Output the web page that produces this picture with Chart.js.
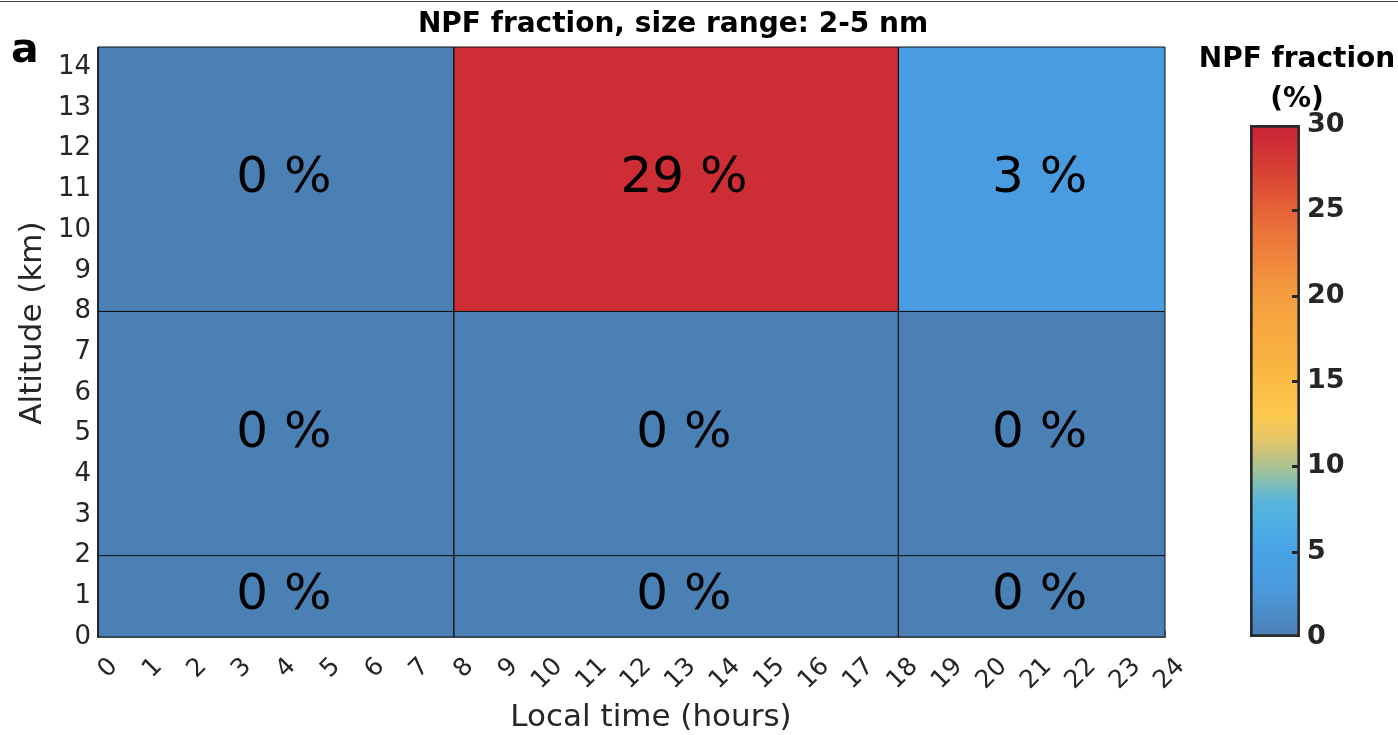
<!DOCTYPE html>
<html>
<head>
<meta charset="utf-8">
<title>NPF fraction, size range: 2-5 nm</title>
<script src="https://cdn.jsdelivr.net/npm/chart.js@4.4.1/dist/chart.umd.min.js"></script>
<style>
  html, body { margin: 0; padding: 0; background: #fff; }
  #wrap { position: relative; width: 1398px; height: 735px; overflow: hidden; }
  #topline { position: absolute; left: 0; top: 1px; width: 1398px; height: 0; border-top: 1px solid #444; }
  #main { position: absolute; left: 0; top: 0; }
  #cbar { position: absolute; left: 1190px; top: 0; }
</style>
</head>
<body>
<div id="wrap">
  <div id="topline"></div>
  <canvas id="main" width="1346" height="735"></canvas>
  <canvas id="cbar" width="208" height="735"></canvas>
</div>
<script>
// ── Data ──────────────────────────────────────────────────────────────
var timeEdges = [0, 8, 18, 24];          // local time bins (hours)
var altEdges  = [0, 2, 8, 14.5];         // altitude bins (km)
// NPF fraction (%), rows = altitude bins (bottom -> top), cols = time bins
var npfLow  = [0, 0, 0];
var npfMid  = [0, 0, 0];
var npfHigh = [0, 29, 3];
var npfRows = [npfLow, npfMid, npfHigh];

var xTicks  = [0,1,2,3,4,5,6,7,8,9,10,11,12,13,14,15,16,17,18,19,20,21,22,23,24];
var yTicks  = [0,1,2,3,4,5,6,7,8,9,10,11,12,13,14];
var cbTicks = [0, 5, 10, 15, 20, 25, 30];

var chartTitle = 'NPF fraction, size range: 2-5 nm';
var xTitle     = 'Local time (hours)';
var yTitle     = 'Altitude (km)';
var cbTitle    = ['NPF fraction', '(%)'];

// ── Colormap ──────────────────────────────────────────────────────────
var cmap = [
    [0,   [75, 128, 180]],
    [3,   [74, 156, 224]],
    [5,   [72, 162, 228]],
    [6.5, [75, 175, 230]],
    [8,   [90, 181, 218]],
    [9,   [128, 190, 182]],
    [10,  [172, 195, 145]],
    [11.5,[228, 198, 106]],
    [13,  [252, 200, 76]],
    [15,  [250, 187, 68]],
    [17,  [248, 174, 64]],
    [20,  [245, 158, 64]],
    [22,  [240, 135, 60]],
    [25,  [230, 100, 56]],
    [27,  [216, 68, 52]],
    [30,  [200, 34, 54]]
];

function colorFor(v) {
    if (v <= cmap[0][0]) return 'rgb(' + cmap[0][1].join(',') + ')';
    for (var i = 1; i < cmap.length; i++) {
        if (v <= cmap[i][0]) {
            var a = cmap[i - 1], b = cmap[i];
            var t = (v - a[0]) / (b[0] - a[0]);
            var c = a[1].map(function(x, k) { return Math.round(x + (b[1][k] - x) * t); });
            return 'rgb(' + c.join(',') + ')';
        }
    }
    return 'rgb(' + cmap[cmap.length - 1][1].join(',') + ')';
}

var FONT = '"DejaVu Sans", "Noto Sans", sans-serif';
var INK  = '#262626';

// ── Cells as closed line shapes ───────────────────────────────────────
var datasets = [];
var cells = [];
npfRows.forEach(function(row, r) {
    row.forEach(function(val, c) {
        var x0 = timeEdges[c], x1 = timeEdges[c + 1];
        var y0 = altEdges[r],  y1 = altEdges[r + 1];
        cells.push({ x0: x0, x1: x1, y0: y0, y1: y1, v: val });
        datasets.push({
            data: [
                { x: x0, y: y0 }, { x: x1, y: y0 }, { x: x1, y: y1 },
                { x: x0, y: y1 }, { x: x0, y: y0 }
            ],
            fill: 'shape',
            backgroundColor: colorFor(val),
            borderColor: '#111',
            borderWidth: 1,
            pointRadius: 0,
            tension: 0,
            clip: false
        });
    });
});

// cell labels, panel letter, titles
var mainText = {
    id: 'mainText',
    afterDatasetsDraw: function(chart) {
        var ctx = chart.ctx, xs = chart.scales.x, ys = chart.scales.y;
        ctx.save();
        ctx.fillStyle = '#000';
        ctx.font = '50px ' + FONT;
        ctx.textAlign = 'center';
        ctx.textBaseline = 'middle';
        cells.forEach(function(c) {
            var cx = xs.getPixelForValue((c.x0 + c.x1) / 2) + 8;
            var cy = ys.getPixelForValue((c.y0 + c.y1) / 2);
            ctx.fillText(c.v + ' %', cx, cy);
        });

        ctx.font = 'bold 28px ' + FONT;
        ctx.fillText(chartTitle, 673, 25);

        ctx.fillStyle = INK;
        ctx.font = '31px ' + FONT;
        ctx.fillText(xTitle, 651, 718);
        ctx.save();
        ctx.translate(33, 323);
        ctx.rotate(-Math.PI / 2);
        ctx.fillText(yTitle, 0, 0);
        ctx.restore();

        ctx.fillStyle = '#000';
        ctx.font = 'bold 41px ' + FONT;
        ctx.textAlign = 'left';
        ctx.textBaseline = 'alphabetic';
        ctx.fillText('a', 11, 62);
        ctx.restore();
    }
};

new Chart(document.getElementById('main'), {
    type: 'line',
    data: { datasets: datasets },
    plugins: [mainText],
    options: {
        responsive: false,
        animation: false,
        layout: { padding: { left: 0, right: 181, top: 47, bottom: 0 } },
        plugins: {
            legend: { display: false },
            tooltip: { enabled: false },
            title: { display: false }
        },
        scales: {
            x: {
                type: 'linear',
                min: 0, max: 24,
                afterBuildTicks: function(s) { s.ticks = xTicks.map(function(v) { return { value: v }; }); },
                afterFit: function(s) { s.height = 98; },
                ticks: {
                    color: INK,
                    font: { family: FONT, size: 25 },
                    minRotation: 45, maxRotation: 45,
                    autoSkip: false,
                    labelOffset: 16,
                    padding: 22
                },
                grid: { drawOnChartArea: false, drawTicks: true, tickLength: -7, color: 'rgba(40,40,40,0.55)' },
                border: { display: true, color: '#777', width: 2 }
            },
            y: {
                type: 'linear',
                min: 0, max: 14.5,
                afterBuildTicks: function(s) { s.ticks = yTicks.map(function(v) { return { value: v }; }); },
                afterFit: function(s) { s.width = 98; },
                ticks: {
                    color: INK,
                    font: { family: FONT, size: 26 },
                    autoSkip: false,
                    padding: 7
                },
                grid: { display: false, drawTicks: false },
                border: { display: true, color: '#333', width: 1 }
            }
        }
    }
});

// ── Colorbar ──────────────────────────────────────────────────────────
var cbDecor = {
    id: 'cbDecor',
    afterDatasetsDraw: function(chart) {
        var ctx = chart.ctx, ys = chart.scales.y, area = chart.chartArea;
        ctx.save();
        ctx.strokeStyle = INK;
        ctx.lineWidth = 3;
        cbTicks.slice(1, -1).forEach(function(v) {
            var py = Math.round(ys.getPixelForValue(v)) + 0.5;
            ctx.beginPath();
            ctx.moveTo(area.right - 8, py);
            ctx.lineTo(area.right - 2, py);
            ctx.stroke();
        });
        ctx.fillStyle = '#000';
        ctx.font = 'bold 28px ' + FONT;
        ctx.textAlign = 'center';
        ctx.textBaseline = 'middle';
        ctx.fillText(cbTitle[0], 107, 60);
        ctx.fillText(cbTitle[1], 107, 100);
        ctx.restore();
    }
};

new Chart(document.getElementById('cbar'), {
    type: 'bar',
    data: {
        labels: [''],
        datasets: [{
            data: [[cbTicks[0], cbTicks[cbTicks.length - 1]]],
            backgroundColor: function(c) {
                var chart = c.chart, ys = chart.scales.y;
                if (!chart.chartArea || !ys) return null;
                var y0 = ys.getPixelForValue(ys.min), y1 = ys.getPixelForValue(ys.max);
                var g = chart.ctx.createLinearGradient(0, y0, 0, y1);
                cmap.forEach(function(s) {
                    g.addColorStop((s[0] - ys.min) / (ys.max - ys.min), 'rgb(' + s[1].join(',') + ')');
                });
                return g;
            },
            borderColor: '#2a2a2a',
            borderWidth: 3,
            borderSkipped: false,
            barPercentage: 1,
            categoryPercentage: 1
        }]
    },
    plugins: [cbDecor],
    options: {
        responsive: false,
        animation: false,
        layout: { padding: { left: 60, right: 0, top: 125, bottom: 98 } },
        plugins: {
            legend: { display: false },
            tooltip: { enabled: false },
            title: { display: false }
        },
        scales: {
            x: { display: false },
            y: {
                position: 'right',
                min: 0, max: 30,
                afterBuildTicks: function(s) { s.ticks = cbTicks.map(function(v) { return { value: v }; }); },
                afterFit: function(s) { s.width = 98; },
                ticks: {
                    color: INK,
                    font: { family: FONT, size: 27, weight: 'bold' },
                    padding: 7
                },
                grid: { display: false, drawTicks: false },
                border: { display: false }
            }
        }
    }
});
</script>
</body>
</html>
